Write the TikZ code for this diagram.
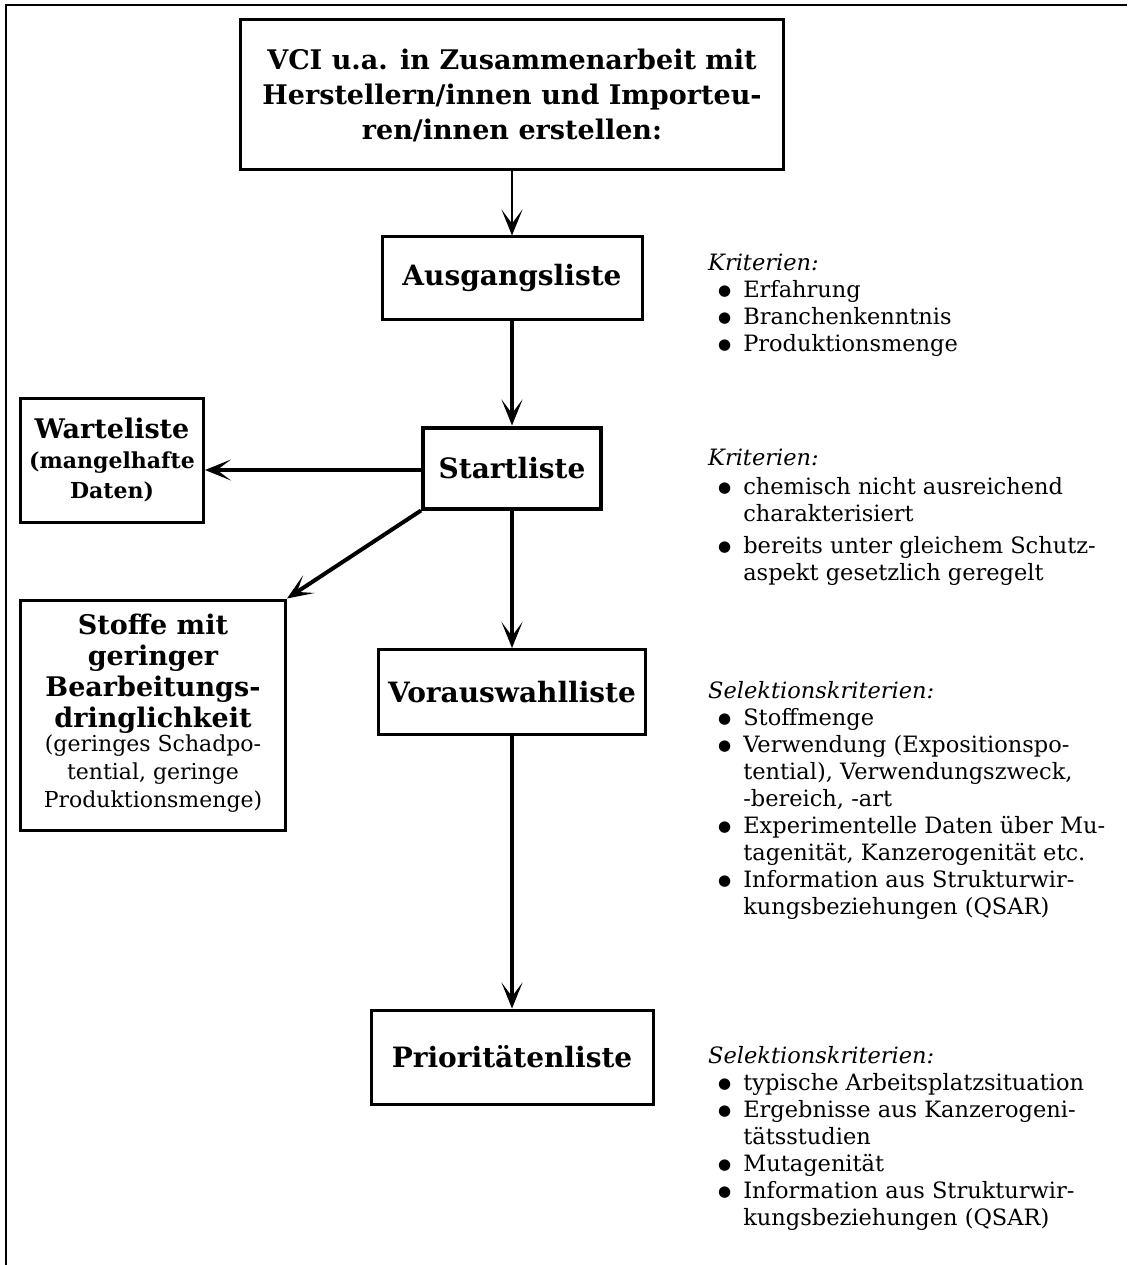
\documentclass[tikz,border=0pt]{standalone}
\usepackage{fontspec}
\setmainfont{DejaVu Serif}
\newfontfamily\symbfont{DejaVu Sans}
\usetikzlibrary{arrows.meta, positioning}
\newcommand*{\kopf}[1]{\multicolumn{2}{@{}l@{}}{\textit{#1}}}
\newcommand*{\punkt}{\raisebox{2pt}{\symbfont\fontsize{15}{15}\selectfont ●}}

\begin{document}
\begin{tikzpicture}[
    x=1pt, y=-1pt, on grid, >={Stealth[length=26pt,width=21pt,inset=14pt]},
    liste/.style={draw, line width=3pt, inner sep=0pt, align=center,
      font=\fontsize{28}{35}\selectfont\bfseries},
    pfeil/.style={->, line width=4pt},
    krit/.style={anchor=north west, inner sep=0pt,
      font=\fontsize{22.5}{27}\selectfont},
  ]
  \useasboundingbox (0,0) rectangle (1127,1265);
  \draw[line width=2.5pt] (1127,5) -- (6,5) -- (6,1265);

  \node[liste, minimum width=543pt, minimum height=150pt, font=\fontsize{27}{35}\selectfont\bfseries] (l_0) at (512,95)
    {VCI u.a. in Zusammenarbeit mit\\Herstellern/innen und Importeu-\\ren/innen erstellen:};
  \node[liste, minimum width=260pt, minimum height=82pt] (l_1) [below=183pt of l_0] {Ausgangsliste};
  \node[liste, line width=4pt, minimum width=178pt, minimum height=81pt] (l_2) [below=190pt of l_1] {Startliste};
  \node[liste, minimum width=267pt, minimum height=85pt] (l_3) [below=224pt of l_2] {Vorauswahlliste};
  \node[liste, minimum width=282pt, minimum height=94pt] (l_4) [below=365pt of l_3] {Prioritätenliste};

  \node[liste, minimum width=183pt, minimum height=124pt, font=\fontsize{22}{30}\selectfont\bfseries]
    (warte) at (112,460) {{\fontsize{27}{30}\selectfont Warteliste}\\(mangelhafte\\Daten)};
  \node[liste, minimum width=265pt, minimum height=230pt, font=\fontsize{27}{31}\selectfont\bfseries]
    (stoffe) at (153,715) {Stoffe mit\\geringer\\Bearbeitungs-\\dringlichkeit\\[-2pt]
      {\mdseries\fontsize{22}{28}\selectfont\begin{tabular}{@{}c@{}}(geringes Schadpo-\\tential, geringe\\Produktionsmenge)\end{tabular}}};

  \draw[->, line width=2.5pt] (l_0) -- (l_1);
  \draw[pfeil] (l_1) -- (l_2);
  \draw[pfeil] (l_2) -- (l_3);
  \draw[pfeil] (l_3) -- (l_4);
  \draw[pfeil] (l_2.west |- 0,470) -- (warte.east |- 0,470);
  \draw[pfeil] (l_2.south west) -- (stoffe.north east);

  \node[krit] (k_1) at (708,251) {\begin{tabular}{@{\hspace{10pt}}c@{\hspace{12pt}}l@{}}
    \kopf{Kriterien:}\\
    \punkt & Erfahrung\\
    \punkt & Branchenkenntnis\\
    \punkt & Produktionsmenge
  \end{tabular}};
  \node[krit] (k_2) at (708,446) {\begin{tabular}{@{\hspace{10pt}}c@{\hspace{12pt}}l@{}}
    \kopf{Kriterien:}\\[2pt]
    \punkt & chemisch nicht ausreichend\\
           & charakterisiert\\[5pt]
    \punkt & bereits unter gleichem Schutz-\\
           & aspekt gesetzlich geregelt
  \end{tabular}};
  \node[krit] (k_3) at (708,679) {\begin{tabular}{@{\hspace{10pt}}c@{\hspace{12pt}}l@{}}
    \kopf{Selektionskriterien:}\\
    \punkt & Stoffmenge\\
    \punkt & Verwendung (Expositionspo-\\
           & tential), Verwendungszweck,\\
           & -bereich, -art\\
    \punkt & Experimentelle Daten über Mu-\\
           & tagenität, Kanzerogenität etc.\\
    \punkt & Information aus Strukturwir-\\
           & kungsbeziehungen (QSAR)
  \end{tabular}};
  \node[krit] (k_4) at (708,1044) {\begin{tabular}{@{\hspace{10pt}}c@{\hspace{12pt}}l@{}}
    \kopf{Selektionskriterien:}\\
    \punkt & typische Arbeitsplatzsituation\\
    \punkt & Ergebnisse aus Kanzerogeni-\\
           & tätsstudien\\
    \punkt & Mutagenität\\
    \punkt & Information aus Strukturwir-\\
           & kungsbeziehungen (QSAR)
  \end{tabular}};
\end{tikzpicture}
\end{document}
